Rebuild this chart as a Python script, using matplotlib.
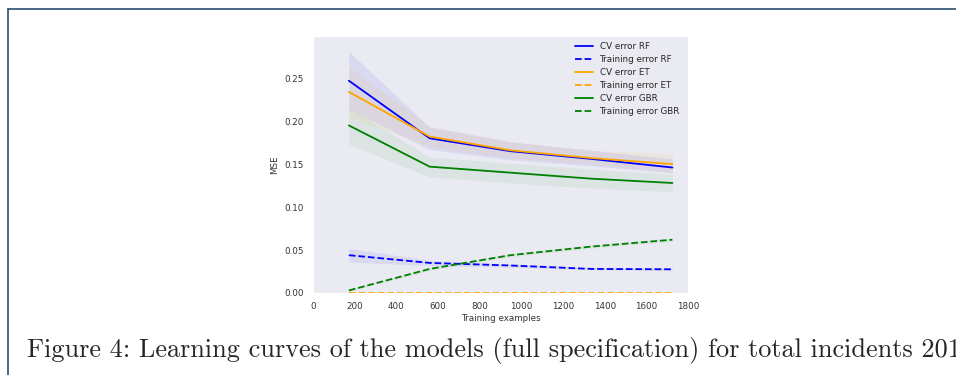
import numpy as np
import matplotlib
matplotlib.use("Agg")
import matplotlib.pyplot as plt
import seaborn as sns

# training set sizes (linspace(0.1, 1, 5) of 1725)
train_sizes = [172, 560, 948, 1336, 1725]

# cross-validation error (mean, lower, upper)
cv_rf = [0.247, 0.180, 0.165, 0.156, 0.146]
cv_rf_lo = [0.214, 0.167, 0.155, 0.148, 0.140]
cv_rf_hi = [0.281, 0.193, 0.176, 0.166, 0.156]

cv_et = [0.234, 0.182, 0.166, 0.157, 0.150]
cv_et_lo = [0.205, 0.170, 0.157, 0.150, 0.140]
cv_et_hi = [0.263, 0.194, 0.176, 0.166, 0.162]

cv_gbr = [0.195, 0.147, 0.140, 0.133, 0.128]
cv_gbr_lo = [0.173, 0.135, 0.128, 0.122, 0.118]
cv_gbr_hi = [0.216, 0.158, 0.151, 0.144, 0.138]

# training error (mean, lower, upper)
tr_rf = [0.044, 0.035, 0.032, 0.028, 0.0276]
tr_rf_lo = [0.036, 0.032, 0.030, 0.027, 0.026]
tr_rf_hi = [0.052, 0.038, 0.034, 0.030, 0.029]

tr_et = [0.0, 0.0, 0.0, 0.0, 0.0]

tr_gbr = [0.003, 0.028, 0.044, 0.054, 0.062]
tr_gbr_lo = [0.002, 0.026, 0.042, 0.052, 0.060]
tr_gbr_hi = [0.004, 0.030, 0.046, 0.056, 0.064]

xticks = [0, 200, 400, 600, 800, 1000, 1200, 1400, 1600, 1800]
yticks = [0.00, 0.05, 0.10, 0.15, 0.20, 0.25]

# caption as visible in the page (runs off the right edge there too)
caption = 'Figure 4: Learning curves of the models (full specification) for total incidents 201'

sns.set_style("dark")
plt.rcParams['font.family'] = ['DejaVu Sans']

fig = plt.figure(figsize=(9.56, 3.75), dpi=100)
fig.patch.set_facecolor('white')

# page frame lines
fig.add_artist(plt.Line2D([7.5 / 956, 7.5 / 956], [0, 1 - 9 / 375],
                          color='#2b4f72', lw=1.2, transform=fig.transFigure))
fig.add_artist(plt.Line2D([7.5 / 956, 1], [1 - 9 / 375, 1 - 9 / 375],
                          color='#2b4f72', lw=1.2, transform=fig.transFigure))

ax = fig.add_axes([313 / 956, 1 - 293 / 375, 375 / 956, 257 / 375])

lw = 1.3
ax.fill_between(train_sizes, cv_rf_lo, cv_rf_hi, color='blue', alpha=0.07, lw=0)
ax.fill_between(train_sizes, tr_rf_lo, tr_rf_hi, color='blue', alpha=0.07, lw=0)
ax.fill_between(train_sizes, cv_et_lo, cv_et_hi, color='orange', alpha=0.07, lw=0)
ax.fill_between(train_sizes, cv_gbr_lo, cv_gbr_hi, color='green', alpha=0.06, lw=0)
ax.fill_between(train_sizes, tr_gbr_lo, tr_gbr_hi, color='green', alpha=0.06, lw=0)

ax.plot(train_sizes, cv_rf, color='blue', lw=lw, label='CV error RF')
ax.plot(train_sizes, tr_rf, color='blue', lw=lw, ls='--', label='Training error RF')
ax.plot(train_sizes, cv_et, color='orange', lw=lw, label='CV error ET')
ax.plot(train_sizes, tr_et, color='orange', lw=lw, ls='--', label='Training error ET')
ax.plot(train_sizes, cv_gbr, color='green', lw=lw, label='CV error GBR')
ax.plot(train_sizes, tr_gbr, color='green', lw=lw, ls='--', label='Training error GBR')

ax.set_xlim(0, 1800)
ax.set_ylim(0, 0.299)
ax.set_xticks(xticks)
ax.set_yticks(yticks)
ax.set_yticklabels(['%.2f' % v for v in yticks])
ax.tick_params(labelsize=6.3, colors='#333333', pad=3)
ax.set_xlabel('Training examples', fontsize=6.3, color='#333333', labelpad=2)
ax.set_ylabel('MSE', fontsize=6.3, color='#333333', labelpad=4)

ax.legend(loc='upper left', bbox_to_anchor=((575 - 313) / 375, 0.977),
          frameon=False, fontsize=6.3, borderpad=0, borderaxespad=0,
          handlelength=2.0, handletextpad=0.8, labelspacing=0.45)

fig.text(27 / 956, 1 - 357 / 375, caption,
         fontsize=18.9, family='cmr10', va='baseline', ha='left')

fig.savefig('out.png', dpi=100)
